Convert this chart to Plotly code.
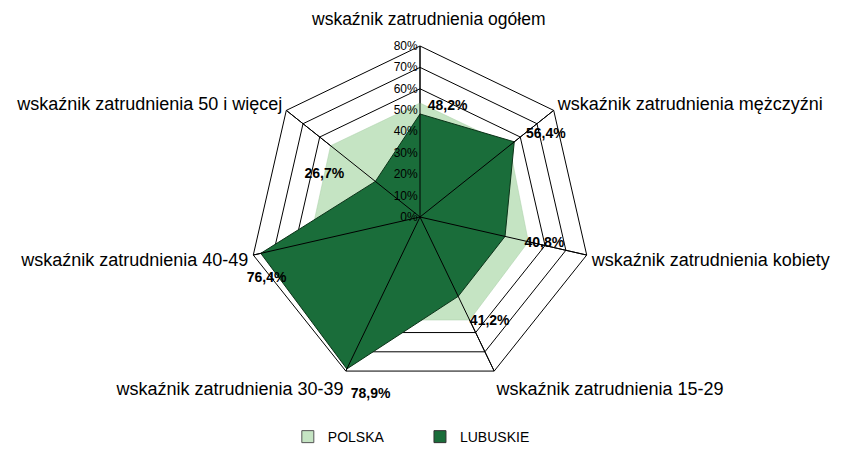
import plotly.graph_objects as go

categories = [
    "wskaźnik zatrudnienia ogółem",
    "wskaźnik zatrudnienia mężczyźni",
    "wskaźnik zatrudnienia kobiety",
    "wskaźnik zatrudnienia 15-29",
    "wskaźnik zatrudnienia 30-39",
    "wskaźnik zatrudnienia 40-49",
    "wskaźnik zatrudnienia 50 i więcej",
]
polska = [53.3, 53.5, 52.0, 53.5, 53.5, 53.0, 53.5]
lubuskie = [48.2, 56.4, 40.8, 41.2, 78.9, 76.4, 26.7]
label_text = ["48,2%", "56,4%", "40,8%", "41,2%", "78,9%", "76,4%", "26,7%"]
radial_ticks = [0, 10, 20, 30, 40, 50, 60, 70, 80]
radial_labels = [f"{v}%" for v in radial_ticks]
series_names = ["POLSKA", "LUBUSKIE"]

FONT = "Liberation Sans"
NB = "\u00a0"
C_POL = "#c5e4c3"
C_LUB = "#1a6d3a"

# label placement (text padding only, positions come from data)
label_pos = ["top right", "top right", "bottom right", "bottom right",
             "bottom right", "bottom center", "top left"]
label_disp = [
    NB * 2 + label_text[0],
    NB * 3 + label_text[1],
    NB * 5 + label_text[2],
    NB + "<br>" + NB * 3 + label_text[3],
    NB + "<br>" + NB + label_text[4],
    NB + "<br>" + NB * 3 + label_text[5],
    label_text[6] + NB * 8,
]
# the top category label is written as a separate text further above
tick_disp = [""] + categories[1:]

fig = go.Figure()

fig.add_trace(go.Scatterpolar(
    r=polska + polska[:1], theta=categories + categories[:1],
    name=series_names[0], mode="lines", fill="toself",
    fillcolor=C_POL, line=dict(color="#a9cfa7", width=0.5),
    hoverinfo="skip", showlegend=False,
))

fig.add_trace(go.Scatterpolar(
    r=lubuskie + lubuskie[:1], theta=categories + categories[:1],
    name=series_names[1], mode="lines", fill="toself",
    fillcolor=C_LUB, line=dict(color="#0c3319", width=1),
    hoverinfo="skip", showlegend=False,
))

# spokes drawn above the fills
for c in categories:
    fig.add_trace(go.Scatterpolar(
        r=[0, radial_ticks[-1]], theta=[c, c], mode="lines",
        line=dict(color="black", width=1), showlegend=False, hoverinfo="skip",
    ))

fig.add_trace(go.Scatterpolar(
    r=lubuskie, theta=categories, mode="text", text=label_disp,
    textposition=label_pos,
    textfont=dict(family=FONT, size=14, color="black", weight="bold"),
    showlegend=False, hoverinfo="skip",
))

# legend entries (square swatches)
fig.add_trace(go.Scatter(
    x=[None], y=[None], mode="markers", name=series_names[0] + NB * 8,
    marker=dict(symbol="square", size=12, color=C_POL,
                line=dict(color="#555555", width=1)),
))
fig.add_trace(go.Scatter(
    x=[None], y=[None], mode="markers", name=series_names[1],
    marker=dict(symbol="square", size=12, color=C_LUB,
                line=dict(color="#333333", width=1)),
))

fig.add_annotation(
    text=categories[0], xref="paper", yref="paper",
    x=420 / 842, y=1 - 11 / 454, xanchor="center", yanchor="middle",
    showarrow=False, font=dict(family=FONT, size=17.5, color="black"),
)

fig.update_layout(
    width=842, height=454,
    margin=dict(l=0, r=0, t=0, b=0),
    paper_bgcolor="white",
    plot_bgcolor="white",
    font=dict(family=FONT, size=15, color="black"),
    xaxis=dict(visible=False),
    yaxis=dict(visible=False),
    polar=dict(
        domain=dict(x=[241 / 842, 583 / 842], y=[74 / 454, 416 / 454]),
        gridshape="linear",
        bgcolor="white",
        radialaxis=dict(
            range=[0, 80], tickvals=radial_ticks, ticktext=radial_labels,
            angle=90, side="counterclockwise", tickangle=90,
            showline=False, ticks="", gridcolor="black", gridwidth=1,
            tickfont=dict(family=FONT, size=12, color="black"),
        ),
        angularaxis=dict(
            direction="clockwise", rotation=90,
            tickmode="array", tickvals=categories, ticktext=tick_disp,
            showline=True, linecolor="black", linewidth=1,
            gridcolor="black", gridwidth=1,
            ticks="outside", ticklen=1, tickcolor="rgba(0,0,0,0)",
            tickfont=dict(family=FONT, size=18, color="black"),
        ),
    ),
    legend=dict(
        orientation="h", x=0.479, xanchor="center", y=0.055, yanchor="middle",
        font=dict(family=FONT, size=14, color="black"),
        itemwidth=30, tracegroupgap=0,
    ),
)

fig.write_html("out.html")
